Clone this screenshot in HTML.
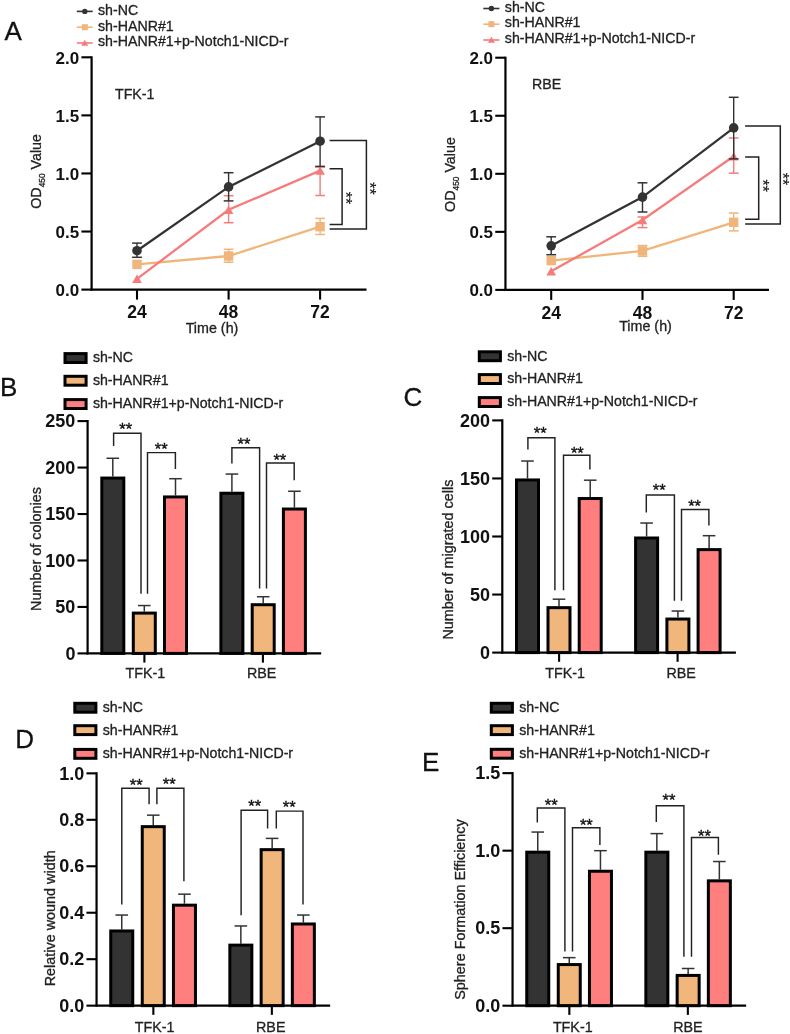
<!DOCTYPE html>
<html><head><meta charset="utf-8"><style>
html,body{margin:0;padding:0;background:#fff;}
body{width:790px;height:1034px;overflow:hidden;}
svg{display:block;font-family:"Liberation Sans", sans-serif;will-change:transform;}
</style></head><body>
<svg width="790" height="1034" viewBox="0 0 790 1034">
<rect width="790" height="1034" fill="#fff"/>
<line x1="76.80" y1="11.40" x2="92.70" y2="11.40" stroke="#333333" stroke-width="1.6" stroke-linecap="butt"/>
<circle cx="84.8" cy="11.4" r="2.7" fill="#333333"/>
<text x="98.00" y="14.70" font-size="14.2" text-anchor="start" stroke="#222" stroke-width="0.3" fill="#222" >sh-NC</text>
<line x1="76.80" y1="27.20" x2="92.70" y2="27.20" stroke="#F0B57A" stroke-width="1.6" stroke-linecap="butt"/>
<rect x="81.8" y="24.2" width="6" height="6" fill="#F0B57A"/>
<text x="98.00" y="30.50" font-size="14.2" text-anchor="start" stroke="#222" stroke-width="0.3" fill="#222" >sh-HANR#1</text>
<line x1="76.80" y1="43.00" x2="92.70" y2="43.00" stroke="#F67C7C" stroke-width="1.6" stroke-linecap="butt"/>
<polygon points="81.2,45.8 88.2,45.8 84.8,39.8" fill="#F67C7C"/>
<text x="98.00" y="46.30" font-size="14.2" text-anchor="start" stroke="#222" stroke-width="0.3" fill="#222" >sh-HANR#1+p-Notch1-NICD-r</text>
<text x="4.50" y="39.80" font-size="26" text-anchor="start" stroke="#111" stroke-width="0.3" fill="#111" >A</text>
<text x="115.00" y="98.70" font-size="14.2" text-anchor="start" stroke="#222" stroke-width="0.3" fill="#222" >TFK-1</text>
<line x1="91.60" y1="56.30" x2="91.60" y2="290.60" stroke="#000" stroke-width="2.2" stroke-linecap="butt"/>
<line x1="90.60" y1="289.60" x2="366.50" y2="289.60" stroke="#000" stroke-width="2.2" stroke-linecap="butt"/>
<line x1="81.40" y1="289.60" x2="91.60" y2="289.60" stroke="#000" stroke-width="2.1" stroke-linecap="butt"/>
<text x="79.20" y="296.10" font-size="17" text-anchor="end" font-weight="bold" fill="#111" >0.0</text>
<line x1="81.40" y1="231.53" x2="91.60" y2="231.53" stroke="#000" stroke-width="2.1" stroke-linecap="butt"/>
<text x="79.20" y="238.03" font-size="17" text-anchor="end" font-weight="bold" fill="#111" >0.5</text>
<line x1="81.40" y1="173.45" x2="91.60" y2="173.45" stroke="#000" stroke-width="2.1" stroke-linecap="butt"/>
<text x="79.20" y="179.95" font-size="17" text-anchor="end" font-weight="bold" fill="#111" >1.0</text>
<line x1="81.40" y1="115.38" x2="91.60" y2="115.38" stroke="#000" stroke-width="2.1" stroke-linecap="butt"/>
<text x="79.20" y="121.88" font-size="17" text-anchor="end" font-weight="bold" fill="#111" >1.5</text>
<line x1="81.40" y1="57.30" x2="91.60" y2="57.30" stroke="#000" stroke-width="2.1" stroke-linecap="butt"/>
<text x="79.20" y="63.80" font-size="17" text-anchor="end" font-weight="bold" fill="#111" >2.0</text>
<line x1="137.00" y1="289.60" x2="137.00" y2="299.60" stroke="#000" stroke-width="2.1" stroke-linecap="butt"/>
<text x="137.00" y="318.20" font-size="17.5" text-anchor="middle" font-weight="bold" fill="#111" >24</text>
<line x1="228.60" y1="289.60" x2="228.60" y2="299.60" stroke="#000" stroke-width="2.1" stroke-linecap="butt"/>
<text x="228.60" y="318.20" font-size="17.5" text-anchor="middle" font-weight="bold" fill="#111" >48</text>
<line x1="320.10" y1="289.60" x2="320.10" y2="299.60" stroke="#000" stroke-width="2.1" stroke-linecap="butt"/>
<text x="320.10" y="318.20" font-size="17.5" text-anchor="middle" font-weight="bold" fill="#111" >72</text>
<text x="212.00" y="332.60" font-size="14.3" text-anchor="middle" stroke="#222" stroke-width="0.3" fill="#222" >Time (h)</text>
<text transform="translate(41.0,171.4) rotate(-90)" font-size="14.3" text-anchor="middle" fill="#222" stroke="#222" stroke-width="0.3">OD<tspan font-size="8.3" dy="4">450</tspan><tspan dy="-4"> Value</tspan></text>
<line x1="228.60" y1="249.30" x2="228.60" y2="262.20" stroke="#F0B57A" stroke-width="1.4" stroke-linecap="butt"/>
<line x1="223.70" y1="249.30" x2="233.50" y2="249.30" stroke="#F0B57A" stroke-width="1.5" stroke-linecap="butt"/>
<line x1="223.70" y1="262.20" x2="233.50" y2="262.20" stroke="#F0B57A" stroke-width="1.5" stroke-linecap="butt"/>
<line x1="320.10" y1="218.40" x2="320.10" y2="234.50" stroke="#F0B57A" stroke-width="1.4" stroke-linecap="butt"/>
<line x1="315.20" y1="218.40" x2="325.00" y2="218.40" stroke="#F0B57A" stroke-width="1.5" stroke-linecap="butt"/>
<line x1="315.20" y1="234.50" x2="325.00" y2="234.50" stroke="#F0B57A" stroke-width="1.5" stroke-linecap="butt"/>
<polyline points="137.00,264.40 228.60,256.00 320.10,226.70" fill="none" stroke="#F0B57A" stroke-width="2.3" stroke-linejoin="miter"/>
<rect x="132.30" y="259.70" width="9.4" height="9.4" fill="#F0B57A"/>
<rect x="223.90" y="251.30" width="9.4" height="9.4" fill="#F0B57A"/>
<rect x="315.40" y="222.00" width="9.4" height="9.4" fill="#F0B57A"/>
<line x1="228.60" y1="195.70" x2="228.60" y2="222.70" stroke="#F67C7C" stroke-width="1.4" stroke-linecap="butt"/>
<line x1="223.70" y1="195.70" x2="233.50" y2="195.70" stroke="#F67C7C" stroke-width="1.5" stroke-linecap="butt"/>
<line x1="223.70" y1="222.70" x2="233.50" y2="222.70" stroke="#F67C7C" stroke-width="1.5" stroke-linecap="butt"/>
<line x1="320.10" y1="167.00" x2="320.10" y2="195.50" stroke="#F67C7C" stroke-width="1.4" stroke-linecap="butt"/>
<line x1="315.20" y1="167.00" x2="325.00" y2="167.00" stroke="#F67C7C" stroke-width="1.5" stroke-linecap="butt"/>
<line x1="315.20" y1="195.50" x2="325.00" y2="195.50" stroke="#F67C7C" stroke-width="1.5" stroke-linecap="butt"/>
<polyline points="137.00,278.80 228.60,209.80 320.10,170.60" fill="none" stroke="#F67C7C" stroke-width="2.3" stroke-linejoin="miter"/>
<polygon points="132.20,283.00 141.80,283.00 137.00,274.50" fill="#F67C7C"/>
<polygon points="223.80,214.00 233.40,214.00 228.60,205.50" fill="#F67C7C"/>
<polygon points="315.30,174.80 324.90,174.80 320.10,166.30" fill="#F67C7C"/>
<line x1="137.00" y1="243.10" x2="137.00" y2="257.30" stroke="#333333" stroke-width="1.4" stroke-linecap="butt"/>
<line x1="132.10" y1="243.10" x2="141.90" y2="243.10" stroke="#333333" stroke-width="1.5" stroke-linecap="butt"/>
<line x1="132.10" y1="257.30" x2="141.90" y2="257.30" stroke="#333333" stroke-width="1.5" stroke-linecap="butt"/>
<line x1="228.60" y1="172.70" x2="228.60" y2="200.90" stroke="#333333" stroke-width="1.4" stroke-linecap="butt"/>
<line x1="223.70" y1="172.70" x2="233.50" y2="172.70" stroke="#333333" stroke-width="1.5" stroke-linecap="butt"/>
<line x1="223.70" y1="200.90" x2="233.50" y2="200.90" stroke="#333333" stroke-width="1.5" stroke-linecap="butt"/>
<line x1="320.10" y1="116.90" x2="320.10" y2="166.40" stroke="#333333" stroke-width="1.4" stroke-linecap="butt"/>
<line x1="315.20" y1="116.90" x2="325.00" y2="116.90" stroke="#333333" stroke-width="1.5" stroke-linecap="butt"/>
<line x1="315.20" y1="166.40" x2="325.00" y2="166.40" stroke="#333333" stroke-width="1.5" stroke-linecap="butt"/>
<polyline points="137.00,250.70 228.60,186.90 320.10,141.20" fill="none" stroke="#333333" stroke-width="2.3" stroke-linejoin="miter"/>
<circle cx="137.00" cy="250.70" r="4.8" fill="#333333"/>
<circle cx="228.60" cy="186.90" r="4.8" fill="#333333"/>
<circle cx="320.10" cy="141.20" r="4.8" fill="#333333"/>
<polyline points="329.60,140.60 366.40,140.60 366.40,228.90 329.60,228.90" fill="none" stroke="#222" stroke-width="1.5" stroke-linejoin="miter"/>
<text transform="translate(363.6,188.4) rotate(90)" font-size="16" text-anchor="middle" fill="#111" stroke="#111" stroke-width="0.15">**</text>
<polyline points="329.60,168.70 342.10,168.70 342.10,224.50 329.60,224.50" fill="none" stroke="#222" stroke-width="1.5" stroke-linejoin="miter"/>
<text transform="translate(340.3,198.0) rotate(90)" font-size="16" text-anchor="middle" fill="#111" stroke="#111" stroke-width="0.15">**</text>
<line x1="483.30" y1="8.50" x2="499.40" y2="8.50" stroke="#333333" stroke-width="1.6" stroke-linecap="butt"/>
<circle cx="491.4" cy="8.5" r="2.7" fill="#333333"/>
<text x="504.80" y="11.70" font-size="14.2" text-anchor="start" stroke="#222" stroke-width="0.3" fill="#222" >sh-NC</text>
<line x1="483.30" y1="24.20" x2="499.40" y2="24.20" stroke="#F0B57A" stroke-width="1.6" stroke-linecap="butt"/>
<rect x="488.4" y="21.2" width="6" height="6" fill="#F0B57A"/>
<text x="504.80" y="27.40" font-size="14.2" text-anchor="start" stroke="#222" stroke-width="0.3" fill="#222" >sh-HANR#1</text>
<line x1="483.30" y1="40.00" x2="499.40" y2="40.00" stroke="#F67C7C" stroke-width="1.6" stroke-linecap="butt"/>
<polygon points="487.9,42.8 494.9,42.8 491.4,36.8" fill="#F67C7C"/>
<text x="504.80" y="43.20" font-size="14.2" text-anchor="start" stroke="#222" stroke-width="0.3" fill="#222" >sh-HANR#1+p-Notch1-NICD-r</text>
<text x="532.00" y="88.60" font-size="14.2" text-anchor="start" stroke="#222" stroke-width="0.3" fill="#222" >RBE</text>
<line x1="505.45" y1="56.70" x2="505.45" y2="290.90" stroke="#000" stroke-width="2.2" stroke-linecap="butt"/>
<line x1="504.45" y1="289.90" x2="769.00" y2="289.90" stroke="#000" stroke-width="2.2" stroke-linecap="butt"/>
<line x1="495.25" y1="289.90" x2="505.45" y2="289.90" stroke="#000" stroke-width="2.1" stroke-linecap="butt"/>
<text x="493.05" y="296.40" font-size="17" text-anchor="end" font-weight="bold" fill="#111" >0.0</text>
<line x1="495.25" y1="231.85" x2="505.45" y2="231.85" stroke="#000" stroke-width="2.1" stroke-linecap="butt"/>
<text x="493.05" y="238.35" font-size="17" text-anchor="end" font-weight="bold" fill="#111" >0.5</text>
<line x1="495.25" y1="173.80" x2="505.45" y2="173.80" stroke="#000" stroke-width="2.1" stroke-linecap="butt"/>
<text x="493.05" y="180.30" font-size="17" text-anchor="end" font-weight="bold" fill="#111" >1.0</text>
<line x1="495.25" y1="115.75" x2="505.45" y2="115.75" stroke="#000" stroke-width="2.1" stroke-linecap="butt"/>
<text x="493.05" y="122.25" font-size="17" text-anchor="end" font-weight="bold" fill="#111" >1.5</text>
<line x1="495.25" y1="57.70" x2="505.45" y2="57.70" stroke="#000" stroke-width="2.1" stroke-linecap="butt"/>
<text x="493.05" y="64.20" font-size="17" text-anchor="end" font-weight="bold" fill="#111" >2.0</text>
<line x1="551.20" y1="289.90" x2="551.20" y2="299.90" stroke="#000" stroke-width="2.1" stroke-linecap="butt"/>
<text x="551.20" y="318.50" font-size="17.5" text-anchor="middle" font-weight="bold" fill="#111" >24</text>
<line x1="642.50" y1="289.90" x2="642.50" y2="299.90" stroke="#000" stroke-width="2.1" stroke-linecap="butt"/>
<text x="642.50" y="318.50" font-size="17.5" text-anchor="middle" font-weight="bold" fill="#111" >48</text>
<line x1="733.70" y1="289.90" x2="733.70" y2="299.90" stroke="#000" stroke-width="2.1" stroke-linecap="butt"/>
<text x="733.70" y="318.50" font-size="17.5" text-anchor="middle" font-weight="bold" fill="#111" >72</text>
<text x="645.50" y="330.60" font-size="14.3" text-anchor="middle" stroke="#222" stroke-width="0.3" fill="#222" >Time (h)</text>
<text transform="translate(454.5,174.5) rotate(-90)" font-size="14.3" text-anchor="middle" fill="#222" stroke="#222" stroke-width="0.3">OD<tspan font-size="8.3" dy="4">450</tspan><tspan dy="-4"> Value</tspan></text>
<line x1="642.50" y1="245.50" x2="642.50" y2="256.30" stroke="#F0B57A" stroke-width="1.4" stroke-linecap="butt"/>
<line x1="637.60" y1="245.50" x2="647.40" y2="245.50" stroke="#F0B57A" stroke-width="1.5" stroke-linecap="butt"/>
<line x1="637.60" y1="256.30" x2="647.40" y2="256.30" stroke="#F0B57A" stroke-width="1.5" stroke-linecap="butt"/>
<line x1="733.70" y1="213.00" x2="733.70" y2="230.90" stroke="#F0B57A" stroke-width="1.4" stroke-linecap="butt"/>
<line x1="728.80" y1="213.00" x2="738.60" y2="213.00" stroke="#F0B57A" stroke-width="1.5" stroke-linecap="butt"/>
<line x1="728.80" y1="230.90" x2="738.60" y2="230.90" stroke="#F0B57A" stroke-width="1.5" stroke-linecap="butt"/>
<polyline points="551.20,260.60 642.50,250.90 733.70,222.30" fill="none" stroke="#F0B57A" stroke-width="2.3" stroke-linejoin="miter"/>
<rect x="546.50" y="255.90" width="9.4" height="9.4" fill="#F0B57A"/>
<rect x="637.80" y="246.20" width="9.4" height="9.4" fill="#F0B57A"/>
<rect x="729.00" y="217.60" width="9.4" height="9.4" fill="#F0B57A"/>
<line x1="642.50" y1="217.00" x2="642.50" y2="227.60" stroke="#F67C7C" stroke-width="1.4" stroke-linecap="butt"/>
<line x1="637.60" y1="217.00" x2="647.40" y2="217.00" stroke="#F67C7C" stroke-width="1.5" stroke-linecap="butt"/>
<line x1="637.60" y1="227.60" x2="647.40" y2="227.60" stroke="#F67C7C" stroke-width="1.5" stroke-linecap="butt"/>
<line x1="733.70" y1="138.00" x2="733.70" y2="173.20" stroke="#F67C7C" stroke-width="1.4" stroke-linecap="butt"/>
<line x1="728.80" y1="138.00" x2="738.60" y2="138.00" stroke="#F67C7C" stroke-width="1.5" stroke-linecap="butt"/>
<line x1="728.80" y1="173.20" x2="738.60" y2="173.20" stroke="#F67C7C" stroke-width="1.5" stroke-linecap="butt"/>
<polyline points="551.20,271.30 642.50,220.00 733.70,156.30" fill="none" stroke="#F67C7C" stroke-width="2.3" stroke-linejoin="miter"/>
<polygon points="546.40,275.50 556.00,275.50 551.20,267.00" fill="#F67C7C"/>
<polygon points="637.70,224.20 647.30,224.20 642.50,215.70" fill="#F67C7C"/>
<polygon points="728.90,160.50 738.50,160.50 733.70,152.00" fill="#F67C7C"/>
<line x1="551.20" y1="236.80" x2="551.20" y2="254.70" stroke="#333333" stroke-width="1.4" stroke-linecap="butt"/>
<line x1="546.30" y1="236.80" x2="556.10" y2="236.80" stroke="#333333" stroke-width="1.5" stroke-linecap="butt"/>
<line x1="546.30" y1="254.70" x2="556.10" y2="254.70" stroke="#333333" stroke-width="1.5" stroke-linecap="butt"/>
<line x1="642.50" y1="182.80" x2="642.50" y2="212.00" stroke="#333333" stroke-width="1.4" stroke-linecap="butt"/>
<line x1="637.60" y1="182.80" x2="647.40" y2="182.80" stroke="#333333" stroke-width="1.5" stroke-linecap="butt"/>
<line x1="637.60" y1="212.00" x2="647.40" y2="212.00" stroke="#333333" stroke-width="1.5" stroke-linecap="butt"/>
<line x1="733.70" y1="97.30" x2="733.70" y2="158.90" stroke="#333333" stroke-width="1.4" stroke-linecap="butt"/>
<line x1="728.80" y1="97.30" x2="738.60" y2="97.30" stroke="#333333" stroke-width="1.5" stroke-linecap="butt"/>
<line x1="728.80" y1="158.90" x2="738.60" y2="158.90" stroke="#333333" stroke-width="1.5" stroke-linecap="butt"/>
<polyline points="551.20,245.80 642.50,197.10 733.70,127.90" fill="none" stroke="#333333" stroke-width="2.3" stroke-linejoin="miter"/>
<circle cx="551.20" cy="245.80" r="4.8" fill="#333333"/>
<circle cx="642.50" cy="197.10" r="4.8" fill="#333333"/>
<circle cx="733.70" cy="127.90" r="4.8" fill="#333333"/>
<polyline points="745.10,126.10 780.30,126.10 780.30,224.10 745.10,224.10" fill="none" stroke="#222" stroke-width="1.5" stroke-linejoin="miter"/>
<text transform="translate(777.2,179.0) rotate(90)" font-size="16" text-anchor="middle" fill="#111" stroke="#111" stroke-width="0.15">**</text>
<polyline points="745.10,156.90 758.70,156.90 758.70,219.20 745.10,219.20" fill="none" stroke="#222" stroke-width="1.5" stroke-linejoin="miter"/>
<text transform="translate(756.9,185.8) rotate(90)" font-size="16" text-anchor="middle" fill="#111" stroke="#111" stroke-width="0.15">**</text>
<text x="-0.10" y="395.70" font-size="26" text-anchor="start" stroke="#111" stroke-width="0.3" fill="#111" >B</text>
<rect x="65.00" y="353.60" width="21.1" height="8.9" fill="#333333" stroke="#000" stroke-width="3"/>
<text x="92.90" y="362.40" font-size="14.2" text-anchor="start" stroke="#222" stroke-width="0.3" fill="#222" >sh-NC</text>
<rect x="65.00" y="376.30" width="21.1" height="8.9" fill="#F0B67C" stroke="#000" stroke-width="3"/>
<text x="92.90" y="385.10" font-size="14.2" text-anchor="start" stroke="#222" stroke-width="0.3" fill="#222" >sh-HANR#1</text>
<rect x="65.00" y="399.60" width="21.1" height="8.9" fill="#FF7F7F" stroke="#000" stroke-width="3"/>
<text x="92.90" y="408.40" font-size="14.2" text-anchor="start" stroke="#222" stroke-width="0.3" fill="#222" >sh-HANR#1+p-Notch1-NICD-r</text>
<line x1="112.80" y1="458.27" x2="112.80" y2="476.57" stroke="#333" stroke-width="1.5" stroke-linecap="butt"/>
<line x1="106.50" y1="458.27" x2="119.10" y2="458.27" stroke="#333" stroke-width="1.5" stroke-linecap="butt"/>
<rect x="101.80" y="478.07" width="22" height="175.33" fill="#333333" stroke="#000" stroke-width="3"/>
<line x1="144.30" y1="605.55" x2="144.30" y2="611.59" stroke="#333" stroke-width="1.5" stroke-linecap="butt"/>
<line x1="138.00" y1="605.55" x2="150.60" y2="605.55" stroke="#333" stroke-width="1.5" stroke-linecap="butt"/>
<rect x="133.30" y="613.09" width="22" height="40.31" fill="#F0B67C" stroke="#000" stroke-width="3"/>
<line x1="175.50" y1="478.71" x2="175.50" y2="495.44" stroke="#333" stroke-width="1.5" stroke-linecap="butt"/>
<line x1="169.20" y1="478.71" x2="181.80" y2="478.71" stroke="#333" stroke-width="1.5" stroke-linecap="butt"/>
<rect x="164.50" y="496.94" width="22" height="156.46" fill="#FF7F7F" stroke="#000" stroke-width="3"/>
<line x1="231.90" y1="474.06" x2="231.90" y2="491.72" stroke="#333" stroke-width="1.5" stroke-linecap="butt"/>
<line x1="225.60" y1="474.06" x2="238.20" y2="474.06" stroke="#333" stroke-width="1.5" stroke-linecap="butt"/>
<rect x="220.90" y="493.22" width="22" height="160.18" fill="#333333" stroke="#000" stroke-width="3"/>
<line x1="263.20" y1="596.72" x2="263.20" y2="603.22" stroke="#333" stroke-width="1.5" stroke-linecap="butt"/>
<line x1="256.90" y1="596.72" x2="269.50" y2="596.72" stroke="#333" stroke-width="1.5" stroke-linecap="butt"/>
<rect x="252.20" y="604.72" width="22" height="48.68" fill="#F0B67C" stroke="#000" stroke-width="3"/>
<line x1="294.40" y1="491.25" x2="294.40" y2="507.52" stroke="#333" stroke-width="1.5" stroke-linecap="butt"/>
<line x1="288.10" y1="491.25" x2="300.70" y2="491.25" stroke="#333" stroke-width="1.5" stroke-linecap="butt"/>
<rect x="283.40" y="509.02" width="22" height="144.38" fill="#FF7F7F" stroke="#000" stroke-width="3"/>
<line x1="87.60" y1="420.00" x2="87.60" y2="654.40" stroke="#000" stroke-width="2.2" stroke-linecap="butt"/>
<line x1="86.60" y1="653.40" x2="321.20" y2="653.40" stroke="#000" stroke-width="2.2" stroke-linecap="butt"/>
<line x1="77.50" y1="653.40" x2="87.60" y2="653.40" stroke="#000" stroke-width="2.1" stroke-linecap="butt"/>
<text x="75.40" y="659.60" font-size="18" text-anchor="end" font-weight="bold" fill="#111" >0</text>
<line x1="77.50" y1="606.94" x2="87.60" y2="606.94" stroke="#000" stroke-width="2.1" stroke-linecap="butt"/>
<text x="75.40" y="613.14" font-size="18" text-anchor="end" font-weight="bold" fill="#111" >50</text>
<line x1="77.50" y1="560.48" x2="87.60" y2="560.48" stroke="#000" stroke-width="2.1" stroke-linecap="butt"/>
<text x="75.40" y="566.68" font-size="18" text-anchor="end" font-weight="bold" fill="#111" >100</text>
<line x1="77.50" y1="514.02" x2="87.60" y2="514.02" stroke="#000" stroke-width="2.1" stroke-linecap="butt"/>
<text x="75.40" y="520.22" font-size="18" text-anchor="end" font-weight="bold" fill="#111" >150</text>
<line x1="77.50" y1="467.56" x2="87.60" y2="467.56" stroke="#000" stroke-width="2.1" stroke-linecap="butt"/>
<text x="75.40" y="473.76" font-size="18" text-anchor="end" font-weight="bold" fill="#111" >200</text>
<line x1="77.50" y1="421.10" x2="87.60" y2="421.10" stroke="#000" stroke-width="2.1" stroke-linecap="butt"/>
<text x="75.40" y="427.30" font-size="18" text-anchor="end" font-weight="bold" fill="#111" >250</text>
<line x1="144.40" y1="653.40" x2="144.40" y2="662.60" stroke="#000" stroke-width="2.1" stroke-linecap="butt"/>
<text x="145.30" y="677.60" font-size="14.3" text-anchor="middle" stroke="#222" stroke-width="0.3" fill="#222" >TFK-1</text>
<line x1="262.90" y1="653.40" x2="262.90" y2="662.60" stroke="#000" stroke-width="2.1" stroke-linecap="butt"/>
<text x="261.70" y="677.60" font-size="14.3" text-anchor="middle" stroke="#222" stroke-width="0.3" fill="#222" >RBE</text>
<text transform="translate(40.7,549.0) rotate(-90)" font-size="14.4" text-anchor="middle" fill="#222" stroke="#222" stroke-width="0.3">Number of colonies</text>
<polyline points="113.60,446.10 113.60,433.20 141.00,433.20 141.00,593.70" fill="none" stroke="#222" stroke-width="1.45" stroke-linejoin="miter"/>
<text x="125.65" y="435.30" font-size="16.5" text-anchor="middle" fill="#111" stroke="#111" stroke-width="0.35">**</text>
<polyline points="147.50,593.70 147.50,452.60 175.40,452.60 175.40,469.10" fill="none" stroke="#222" stroke-width="1.45" stroke-linejoin="miter"/>
<text x="161.20" y="454.90" font-size="16.5" text-anchor="middle" fill="#111" stroke="#111" stroke-width="0.35">**</text>
<polyline points="231.90,463.40 231.90,447.70 259.60,447.70 259.60,588.40" fill="none" stroke="#222" stroke-width="1.45" stroke-linejoin="miter"/>
<text x="243.90" y="449.70" font-size="16.5" text-anchor="middle" fill="#111" stroke="#111" stroke-width="0.35">**</text>
<polyline points="266.50,588.40 266.50,462.90 294.20,462.90 294.20,480.30" fill="none" stroke="#222" stroke-width="1.45" stroke-linejoin="miter"/>
<text x="279.80" y="465.60" font-size="16.5" text-anchor="middle" fill="#111" stroke="#111" stroke-width="0.35">**</text>
<text x="403.50" y="405.80" font-size="26" text-anchor="start" stroke="#111" stroke-width="0.3" fill="#111" >C</text>
<rect x="479.30" y="351.80" width="21.1" height="8.9" fill="#333333" stroke="#000" stroke-width="3"/>
<text x="507.20" y="360.60" font-size="14.2" text-anchor="start" stroke="#222" stroke-width="0.3" fill="#222" >sh-NC</text>
<rect x="479.30" y="374.60" width="21.1" height="8.9" fill="#F0B67C" stroke="#000" stroke-width="3"/>
<text x="507.20" y="383.40" font-size="14.2" text-anchor="start" stroke="#222" stroke-width="0.3" fill="#222" >sh-HANR#1</text>
<rect x="479.30" y="397.60" width="21.1" height="8.9" fill="#FF7F7F" stroke="#000" stroke-width="3"/>
<text x="507.20" y="406.40" font-size="14.2" text-anchor="start" stroke="#222" stroke-width="0.3" fill="#222" >sh-HANR#1+p-Notch1-NICD-r</text>
<line x1="527.50" y1="461.03" x2="527.50" y2="478.45" stroke="#333" stroke-width="1.5" stroke-linecap="butt"/>
<line x1="521.20" y1="461.03" x2="533.80" y2="461.03" stroke="#333" stroke-width="1.5" stroke-linecap="butt"/>
<rect x="516.50" y="479.95" width="22" height="172.65" fill="#333333" stroke="#000" stroke-width="3"/>
<line x1="559.00" y1="599.19" x2="559.00" y2="606.16" stroke="#333" stroke-width="1.5" stroke-linecap="butt"/>
<line x1="552.70" y1="599.19" x2="565.30" y2="599.19" stroke="#333" stroke-width="1.5" stroke-linecap="butt"/>
<rect x="548.00" y="607.66" width="22" height="44.94" fill="#F0B67C" stroke="#000" stroke-width="3"/>
<line x1="590.20" y1="480.19" x2="590.20" y2="497.03" stroke="#333" stroke-width="1.5" stroke-linecap="butt"/>
<line x1="583.90" y1="480.19" x2="596.50" y2="480.19" stroke="#333" stroke-width="1.5" stroke-linecap="butt"/>
<rect x="579.20" y="498.53" width="22" height="154.07" fill="#FF7F7F" stroke="#000" stroke-width="3"/>
<line x1="646.60" y1="523.03" x2="646.60" y2="536.50" stroke="#333" stroke-width="1.5" stroke-linecap="butt"/>
<line x1="640.30" y1="523.03" x2="652.90" y2="523.03" stroke="#333" stroke-width="1.5" stroke-linecap="butt"/>
<rect x="635.60" y="538.00" width="22" height="114.60" fill="#333333" stroke="#000" stroke-width="3"/>
<line x1="677.90" y1="611.04" x2="677.90" y2="617.54" stroke="#333" stroke-width="1.5" stroke-linecap="butt"/>
<line x1="671.60" y1="611.04" x2="684.20" y2="611.04" stroke="#333" stroke-width="1.5" stroke-linecap="butt"/>
<rect x="666.90" y="619.04" width="22" height="33.56" fill="#F0B67C" stroke="#000" stroke-width="3"/>
<line x1="709.10" y1="535.69" x2="709.10" y2="548.11" stroke="#333" stroke-width="1.5" stroke-linecap="butt"/>
<line x1="702.80" y1="535.69" x2="715.40" y2="535.69" stroke="#333" stroke-width="1.5" stroke-linecap="butt"/>
<rect x="698.10" y="549.61" width="22" height="102.99" fill="#FF7F7F" stroke="#000" stroke-width="3"/>
<line x1="502.30" y1="419.30" x2="502.30" y2="653.60" stroke="#000" stroke-width="2.2" stroke-linecap="butt"/>
<line x1="501.30" y1="652.60" x2="735.90" y2="652.60" stroke="#000" stroke-width="2.2" stroke-linecap="butt"/>
<line x1="492.20" y1="652.60" x2="502.30" y2="652.60" stroke="#000" stroke-width="2.1" stroke-linecap="butt"/>
<text x="490.10" y="658.80" font-size="18" text-anchor="end" font-weight="bold" fill="#111" >0</text>
<line x1="492.20" y1="594.55" x2="502.30" y2="594.55" stroke="#000" stroke-width="2.1" stroke-linecap="butt"/>
<text x="490.10" y="600.75" font-size="18" text-anchor="end" font-weight="bold" fill="#111" >50</text>
<line x1="492.20" y1="536.50" x2="502.30" y2="536.50" stroke="#000" stroke-width="2.1" stroke-linecap="butt"/>
<text x="490.10" y="542.70" font-size="18" text-anchor="end" font-weight="bold" fill="#111" >100</text>
<line x1="492.20" y1="478.45" x2="502.30" y2="478.45" stroke="#000" stroke-width="2.1" stroke-linecap="butt"/>
<text x="490.10" y="484.65" font-size="18" text-anchor="end" font-weight="bold" fill="#111" >150</text>
<line x1="492.20" y1="420.40" x2="502.30" y2="420.40" stroke="#000" stroke-width="2.1" stroke-linecap="butt"/>
<text x="490.10" y="426.60" font-size="18" text-anchor="end" font-weight="bold" fill="#111" >200</text>
<line x1="559.10" y1="652.60" x2="559.10" y2="661.80" stroke="#000" stroke-width="2.1" stroke-linecap="butt"/>
<text x="565.10" y="677.60" font-size="14.3" text-anchor="middle" stroke="#222" stroke-width="0.3" fill="#222" >TFK-1</text>
<line x1="677.60" y1="652.60" x2="677.60" y2="661.80" stroke="#000" stroke-width="2.1" stroke-linecap="butt"/>
<text x="681.20" y="677.60" font-size="14.3" text-anchor="middle" stroke="#222" stroke-width="0.3" fill="#222" >RBE</text>
<text transform="translate(453.2,559.6) rotate(-90)" font-size="14.4" text-anchor="middle" fill="#222" stroke="#222" stroke-width="0.3">Number of migrated cells</text>
<polyline points="527.90,449.60 527.90,437.70 554.90,437.70 554.90,590.20" fill="none" stroke="#222" stroke-width="1.45" stroke-linejoin="miter"/>
<text x="540.25" y="439.20" font-size="16.5" text-anchor="middle" fill="#111" stroke="#111" stroke-width="0.35">**</text>
<polyline points="563.50,590.20 563.50,455.20 589.90,455.20 589.90,469.60" fill="none" stroke="#222" stroke-width="1.45" stroke-linejoin="miter"/>
<text x="577.35" y="458.90" font-size="16.5" text-anchor="middle" fill="#111" stroke="#111" stroke-width="0.35">**</text>
<polyline points="646.30,512.60 646.30,495.00 674.40,495.00 674.40,600.80" fill="none" stroke="#222" stroke-width="1.45" stroke-linejoin="miter"/>
<text x="659.15" y="496.40" font-size="16.5" text-anchor="middle" fill="#111" stroke="#111" stroke-width="0.35">**</text>
<polyline points="681.50,600.80 681.50,509.40 708.90,509.40 708.90,525.40" fill="none" stroke="#222" stroke-width="1.45" stroke-linejoin="miter"/>
<text x="694.60" y="511.80" font-size="16.5" text-anchor="middle" fill="#111" stroke="#111" stroke-width="0.35">**</text>
<text x="15.20" y="748.40" font-size="26" text-anchor="start" stroke="#111" stroke-width="0.3" fill="#111" >D</text>
<rect x="74.80" y="703.30" width="21.1" height="8.9" fill="#333333" stroke="#000" stroke-width="3"/>
<text x="102.70" y="712.10" font-size="14.2" text-anchor="start" stroke="#222" stroke-width="0.3" fill="#222" >sh-NC</text>
<rect x="74.80" y="725.70" width="21.1" height="8.9" fill="#F0B67C" stroke="#000" stroke-width="3"/>
<text x="102.70" y="734.50" font-size="14.2" text-anchor="start" stroke="#222" stroke-width="0.3" fill="#222" >sh-HANR#1</text>
<rect x="74.80" y="749.40" width="21.1" height="8.9" fill="#FF7F7F" stroke="#000" stroke-width="3"/>
<text x="102.70" y="758.20" font-size="14.2" text-anchor="start" stroke="#222" stroke-width="0.3" fill="#222" >sh-HANR#1+p-Notch1-NICD-r</text>
<line x1="121.75" y1="915.05" x2="121.75" y2="929.46" stroke="#333" stroke-width="1.5" stroke-linecap="butt"/>
<line x1="115.45" y1="915.05" x2="128.05" y2="915.05" stroke="#333" stroke-width="1.5" stroke-linecap="butt"/>
<rect x="110.75" y="930.96" width="22" height="74.69" fill="#333333" stroke="#000" stroke-width="3"/>
<line x1="153.25" y1="815.16" x2="153.25" y2="825.15" stroke="#333" stroke-width="1.5" stroke-linecap="butt"/>
<line x1="146.95" y1="815.16" x2="159.55" y2="815.16" stroke="#333" stroke-width="1.5" stroke-linecap="butt"/>
<rect x="142.25" y="826.65" width="22" height="179.00" fill="#F0B67C" stroke="#000" stroke-width="3"/>
<line x1="184.45" y1="894.15" x2="184.45" y2="903.67" stroke="#333" stroke-width="1.5" stroke-linecap="butt"/>
<line x1="178.15" y1="894.15" x2="190.75" y2="894.15" stroke="#333" stroke-width="1.5" stroke-linecap="butt"/>
<rect x="173.45" y="905.17" width="22" height="100.48" fill="#FF7F7F" stroke="#000" stroke-width="3"/>
<line x1="240.85" y1="925.97" x2="240.85" y2="943.63" stroke="#333" stroke-width="1.5" stroke-linecap="butt"/>
<line x1="234.55" y1="925.97" x2="247.15" y2="925.97" stroke="#333" stroke-width="1.5" stroke-linecap="butt"/>
<rect x="229.85" y="945.13" width="22" height="60.52" fill="#333333" stroke="#000" stroke-width="3"/>
<line x1="272.15" y1="838.39" x2="272.15" y2="848.15" stroke="#333" stroke-width="1.5" stroke-linecap="butt"/>
<line x1="265.85" y1="838.39" x2="278.45" y2="838.39" stroke="#333" stroke-width="1.5" stroke-linecap="butt"/>
<rect x="261.15" y="849.65" width="22" height="156.00" fill="#F0B67C" stroke="#000" stroke-width="3"/>
<line x1="303.35" y1="915.05" x2="303.35" y2="922.49" stroke="#333" stroke-width="1.5" stroke-linecap="butt"/>
<line x1="297.05" y1="915.05" x2="309.65" y2="915.05" stroke="#333" stroke-width="1.5" stroke-linecap="butt"/>
<rect x="292.35" y="923.99" width="22" height="81.66" fill="#FF7F7F" stroke="#000" stroke-width="3"/>
<line x1="96.55" y1="772.25" x2="96.55" y2="1006.65" stroke="#000" stroke-width="2.2" stroke-linecap="butt"/>
<line x1="95.55" y1="1005.65" x2="330.15" y2="1005.65" stroke="#000" stroke-width="2.2" stroke-linecap="butt"/>
<line x1="86.45" y1="1005.65" x2="96.55" y2="1005.65" stroke="#000" stroke-width="2.1" stroke-linecap="butt"/>
<text x="84.35" y="1011.85" font-size="18" text-anchor="end" font-weight="bold" fill="#111" >0.0</text>
<line x1="86.45" y1="959.19" x2="96.55" y2="959.19" stroke="#000" stroke-width="2.1" stroke-linecap="butt"/>
<text x="84.35" y="965.39" font-size="18" text-anchor="end" font-weight="bold" fill="#111" >0.2</text>
<line x1="86.45" y1="912.73" x2="96.55" y2="912.73" stroke="#000" stroke-width="2.1" stroke-linecap="butt"/>
<text x="84.35" y="918.93" font-size="18" text-anchor="end" font-weight="bold" fill="#111" >0.4</text>
<line x1="86.45" y1="866.27" x2="96.55" y2="866.27" stroke="#000" stroke-width="2.1" stroke-linecap="butt"/>
<text x="84.35" y="872.47" font-size="18" text-anchor="end" font-weight="bold" fill="#111" >0.6</text>
<line x1="86.45" y1="819.81" x2="96.55" y2="819.81" stroke="#000" stroke-width="2.1" stroke-linecap="butt"/>
<text x="84.35" y="826.01" font-size="18" text-anchor="end" font-weight="bold" fill="#111" >0.8</text>
<line x1="86.45" y1="773.35" x2="96.55" y2="773.35" stroke="#000" stroke-width="2.1" stroke-linecap="butt"/>
<text x="84.35" y="779.55" font-size="18" text-anchor="end" font-weight="bold" fill="#111" >1.0</text>
<line x1="153.35" y1="1005.65" x2="153.35" y2="1014.85" stroke="#000" stroke-width="2.1" stroke-linecap="butt"/>
<text x="154.55" y="1032.00" font-size="14.3" text-anchor="middle" stroke="#222" stroke-width="0.3" fill="#222" >TFK-1</text>
<line x1="271.85" y1="1005.65" x2="271.85" y2="1014.85" stroke="#000" stroke-width="2.1" stroke-linecap="butt"/>
<text x="270.75" y="1032.00" font-size="14.3" text-anchor="middle" stroke="#222" stroke-width="0.3" fill="#222" >RBE</text>
<text transform="translate(55.0,918.3) rotate(-90)" font-size="14.4" text-anchor="middle" fill="#222" stroke="#222" stroke-width="0.3">Relative wound width</text>
<polyline points="121.80,904.60 121.80,788.20 149.10,788.20 149.10,804.30" fill="none" stroke="#222" stroke-width="1.45" stroke-linejoin="miter"/>
<text x="136.20" y="791.40" font-size="16.5" text-anchor="middle" fill="#111" stroke="#111" stroke-width="0.35">**</text>
<polyline points="156.90,804.30 156.90,788.20 183.90,788.20 183.90,881.20" fill="none" stroke="#222" stroke-width="1.45" stroke-linejoin="miter"/>
<text x="169.25" y="790.20" font-size="16.5" text-anchor="middle" fill="#111" stroke="#111" stroke-width="0.35">**</text>
<polyline points="241.10,915.30 241.10,810.30 267.60,810.30 267.60,828.50" fill="none" stroke="#222" stroke-width="1.45" stroke-linejoin="miter"/>
<text x="254.65" y="812.40" font-size="16.5" text-anchor="middle" fill="#111" stroke="#111" stroke-width="0.35">**</text>
<polyline points="276.30,828.50 276.30,811.10 303.00,811.10 303.00,904.60" fill="none" stroke="#222" stroke-width="1.45" stroke-linejoin="miter"/>
<text x="289.20" y="813.00" font-size="16.5" text-anchor="middle" fill="#111" stroke="#111" stroke-width="0.35">**</text>
<text x="422.00" y="770.70" font-size="26" text-anchor="start" stroke="#111" stroke-width="0.3" fill="#111" >E</text>
<rect x="491.30" y="703.30" width="21.1" height="8.9" fill="#333333" stroke="#000" stroke-width="3"/>
<text x="519.20" y="712.10" font-size="14.2" text-anchor="start" stroke="#222" stroke-width="0.3" fill="#222" >sh-NC</text>
<rect x="491.30" y="725.70" width="21.1" height="8.9" fill="#F0B67C" stroke="#000" stroke-width="3"/>
<text x="519.20" y="734.50" font-size="14.2" text-anchor="start" stroke="#222" stroke-width="0.3" fill="#222" >sh-HANR#1</text>
<rect x="491.30" y="749.30" width="21.1" height="8.9" fill="#FF7F7F" stroke="#000" stroke-width="3"/>
<text x="519.20" y="758.10" font-size="14.2" text-anchor="start" stroke="#222" stroke-width="0.3" fill="#222" >sh-HANR#1+p-Notch1-NICD-r</text>
<line x1="537.75" y1="832.06" x2="537.75" y2="850.67" stroke="#333" stroke-width="1.5" stroke-linecap="butt"/>
<line x1="531.45" y1="832.06" x2="544.05" y2="832.06" stroke="#333" stroke-width="1.5" stroke-linecap="butt"/>
<rect x="526.75" y="852.17" width="22" height="153.53" fill="#333333" stroke="#000" stroke-width="3"/>
<line x1="569.25" y1="957.64" x2="569.25" y2="963.07" stroke="#333" stroke-width="1.5" stroke-linecap="butt"/>
<line x1="562.95" y1="957.64" x2="575.55" y2="957.64" stroke="#333" stroke-width="1.5" stroke-linecap="butt"/>
<rect x="558.25" y="964.57" width="22" height="41.13" fill="#F0B67C" stroke="#000" stroke-width="3"/>
<line x1="600.45" y1="850.67" x2="600.45" y2="869.74" stroke="#333" stroke-width="1.5" stroke-linecap="butt"/>
<line x1="594.15" y1="850.67" x2="606.75" y2="850.67" stroke="#333" stroke-width="1.5" stroke-linecap="butt"/>
<rect x="589.45" y="871.24" width="22" height="134.46" fill="#FF7F7F" stroke="#000" stroke-width="3"/>
<line x1="656.85" y1="833.61" x2="656.85" y2="850.67" stroke="#333" stroke-width="1.5" stroke-linecap="butt"/>
<line x1="650.55" y1="833.61" x2="663.15" y2="833.61" stroke="#333" stroke-width="1.5" stroke-linecap="butt"/>
<rect x="645.85" y="852.17" width="22" height="153.53" fill="#333333" stroke="#000" stroke-width="3"/>
<line x1="688.15" y1="968.49" x2="688.15" y2="973.92" stroke="#333" stroke-width="1.5" stroke-linecap="butt"/>
<line x1="681.85" y1="968.49" x2="694.45" y2="968.49" stroke="#333" stroke-width="1.5" stroke-linecap="butt"/>
<rect x="677.15" y="975.42" width="22" height="30.28" fill="#F0B67C" stroke="#000" stroke-width="3"/>
<line x1="719.35" y1="861.52" x2="719.35" y2="879.35" stroke="#333" stroke-width="1.5" stroke-linecap="butt"/>
<line x1="713.05" y1="861.52" x2="725.65" y2="861.52" stroke="#333" stroke-width="1.5" stroke-linecap="butt"/>
<rect x="708.35" y="880.85" width="22" height="124.85" fill="#FF7F7F" stroke="#000" stroke-width="3"/>
<line x1="512.55" y1="772.05" x2="512.55" y2="1006.70" stroke="#000" stroke-width="2.2" stroke-linecap="butt"/>
<line x1="511.55" y1="1005.70" x2="746.15" y2="1005.70" stroke="#000" stroke-width="2.2" stroke-linecap="butt"/>
<line x1="502.45" y1="1005.70" x2="512.55" y2="1005.70" stroke="#000" stroke-width="2.1" stroke-linecap="butt"/>
<text x="500.35" y="1011.90" font-size="18" text-anchor="end" font-weight="bold" fill="#111" >0.0</text>
<line x1="502.45" y1="928.18" x2="512.55" y2="928.18" stroke="#000" stroke-width="2.1" stroke-linecap="butt"/>
<text x="500.35" y="934.38" font-size="18" text-anchor="end" font-weight="bold" fill="#111" >0.5</text>
<line x1="502.45" y1="850.67" x2="512.55" y2="850.67" stroke="#000" stroke-width="2.1" stroke-linecap="butt"/>
<text x="500.35" y="856.87" font-size="18" text-anchor="end" font-weight="bold" fill="#111" >1.0</text>
<line x1="502.45" y1="773.15" x2="512.55" y2="773.15" stroke="#000" stroke-width="2.1" stroke-linecap="butt"/>
<text x="500.35" y="779.35" font-size="18" text-anchor="end" font-weight="bold" fill="#111" >1.5</text>
<line x1="569.35" y1="1005.70" x2="569.35" y2="1014.90" stroke="#000" stroke-width="2.1" stroke-linecap="butt"/>
<text x="572.75" y="1032.00" font-size="14.3" text-anchor="middle" stroke="#222" stroke-width="0.3" fill="#222" >TFK-1</text>
<line x1="687.85" y1="1005.70" x2="687.85" y2="1014.90" stroke="#000" stroke-width="2.1" stroke-linecap="butt"/>
<text x="687.85" y="1032.00" font-size="14.3" text-anchor="middle" stroke="#222" stroke-width="0.3" fill="#222" >RBE</text>
<text transform="translate(465.3,909.5) rotate(-90)" font-size="14.4" text-anchor="middle" fill="#222" stroke="#222" stroke-width="0.3">Sphere Formation Efficiency</text>
<polyline points="537.30,822.40 537.30,808.00 564.90,808.00 564.90,951.40" fill="none" stroke="#222" stroke-width="1.45" stroke-linejoin="miter"/>
<text x="551.15" y="811.40" font-size="16.5" text-anchor="middle" fill="#111" stroke="#111" stroke-width="0.35">**</text>
<polyline points="572.50,951.40 572.50,827.70 599.90,827.70 599.90,845.10" fill="none" stroke="#222" stroke-width="1.45" stroke-linejoin="miter"/>
<text x="586.35" y="831.40" font-size="16.5" text-anchor="middle" fill="#111" stroke="#111" stroke-width="0.35">**</text>
<polyline points="656.30,822.00 656.30,805.80 683.90,805.80 683.90,956.70" fill="none" stroke="#222" stroke-width="1.45" stroke-linejoin="miter"/>
<text x="669.00" y="806.40" font-size="16.5" text-anchor="middle" fill="#111" stroke="#111" stroke-width="0.35">**</text>
<polyline points="691.50,956.70 691.50,837.50 718.40,837.50 718.40,854.70" fill="none" stroke="#222" stroke-width="1.45" stroke-linejoin="miter"/>
<text x="704.45" y="841.60" font-size="16.5" text-anchor="middle" fill="#111" stroke="#111" stroke-width="0.35">**</text>
</svg>
</body></html>
